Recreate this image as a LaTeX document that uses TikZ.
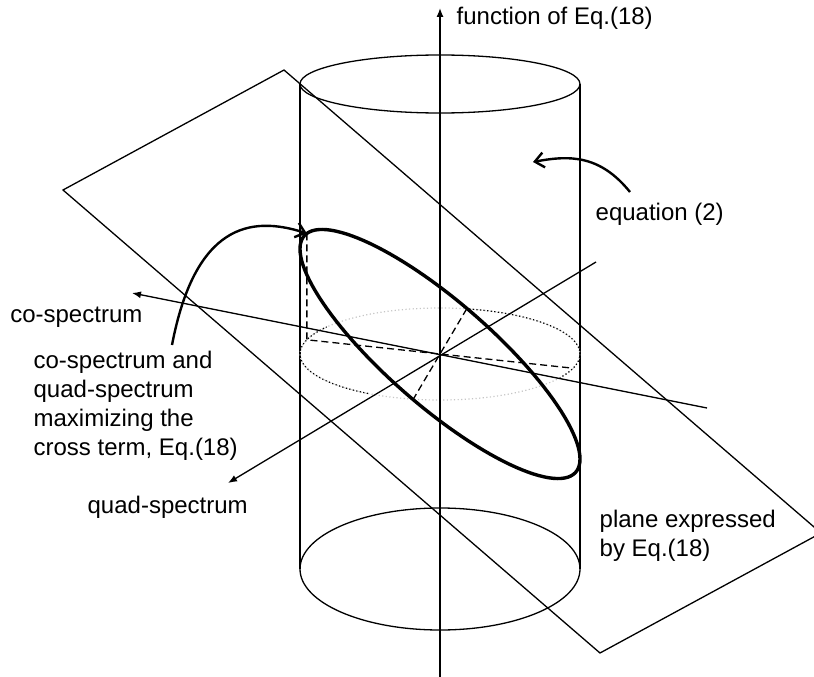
\documentclass[tikz,border=0pt]{standalone}
\usepackage{fontspec}
\setmainfont{Liberation Sans}
\usetikzlibrary{arrows.meta}
\tikzset{
  lbl/.style={inner sep=0pt, anchor=base west, align=left},
  axis/.style={-{Latex[length=9pt,width=7pt]}},
  pointer/.style={line width=2.4pt, -{Straight Barb[length=9pt,width=15pt]}},
  hidden/.style={dash pattern=on 7pt off 4pt},
  rim/.style={line width=1.2pt, dash pattern=on 1.2pt off 2.4pt}
}
\begin{document}
\begin{tikzpicture}[x=1pt, y=-1pt, line width=1.3pt, font=\fontsize{24}{29}\selectfont]
  \useasboundingbox (0,0) rectangle (814,677);
  \clip (0,0) rectangle (814,677);

  \coordinate (O) at (440,354);
  \coordinate (A) at (63,190);
  \coordinate (B) at (284,70);
  \coordinate (C) at (821,533);
  \coordinate (D) at (600,653);
  \draw (A) -- (B) -- (C) -- (D) -- cycle;

  \draw (440,84) ellipse [x radius=140, y radius=29];
  \draw (440,569) ellipse [x radius=140, y radius=61];
  \draw (300,84) -- (300,569);
  \draw (580,84) -- (580,569);

  \draw[rim, gray!45] (O) ellipse [x radius=140, y radius=46];
  \draw[rim] plot[domain=-78:31, samples=40] ({440+140*cos(\x)},{354+46*sin(\x)});
  \draw[rim] plot[domain=121:216, samples=40] ({440+140*cos(\x)},{354+46*sin(\x)});

  \coordinate (P) at ({440+140*cos(198)},{354+105*cos(198)+67*sin(198)});
  \coordinate (Q) at ({440+140*cos(198)},{354+46*sin(198)});
  \coordinate (Qb) at ({440-140*cos(198)},{354-46*sin(198)});
  \coordinate (R) at ({440+140*cos(-79)},{354+46*sin(-79)});
  \coordinate (Rb) at ({440-140*cos(-79)},{354-46*sin(-79)});
  \draw[hidden] (P) -- (Q) -- (O) -- (Qb);
  \draw[hidden] (R) -- (Rb);

  \coordinate (zb) at (440,677);
  \coordinate (zt) at (440,8);
  \coordinate (cr) at (707,408);
  \coordinate (cl) at (132,293);
  \coordinate (qr) at (596,262);
  \coordinate (ql) at (228,483);
  \draw[axis] (zb) -- (zt);
  \draw[axis] (cr) -- (cl);
  \draw[axis] (qr) -- (ql);

  \draw[line width=3.4pt] plot[domain=0:360, samples=121] ({440+140*cos(\x)},{354+105*cos(\x)+67*sin(\x)}) -- cycle;

  \node[lbl] (fn) at (456,25) {function of Eq.(18)};
  \node[lbl] (eq) at (595,220) {equation (2)};
  \node[lbl, anchor=base east] (co) at (143,322) {co-spectrum};
  \node[lbl] (mx) at (33,455) {co-spectrum and\\quad-spectrum\\maximizing the\\cross term, Eq.(18)};
  \node[lbl] (qu) at (87,513) {quad-spectrum};
  \node[lbl] (pl) at (599,556) {plane expressed\\by Eq.(18)};

  \coordinate (e1) at (630,192);
  \coordinate (e2) at (533,162);
  \draw[pointer] (e1) .. controls (600,155) and (570,155) .. (e2);
  \coordinate (m1) at (172,345);
  \draw[pointer] (m1) .. controls (195,225) and (250,215) .. (P);
\end{tikzpicture}
\end{document}
